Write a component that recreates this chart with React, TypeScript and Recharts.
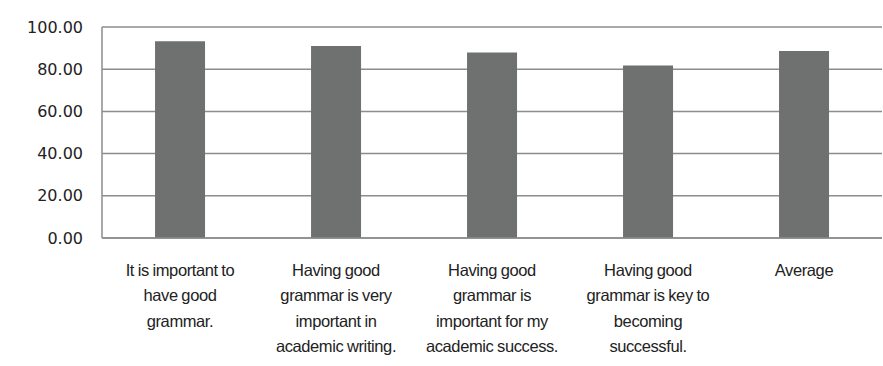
import { BarChart, Bar, XAxis, YAxis, CartesianGrid } from 'recharts'

const categories = [
  'It is important to\nhave good\ngrammar.',
  'Having good\ngrammar is very\nimportant in\nacademic writing.',
  'Having good\ngrammar is\nimportant for my\nacademic success.',
  'Having good\ngrammar is key to\nbecoming\nsuccessful.',
  'Average',
]
const scores = [93.2, 91.0, 87.9, 81.7, 88.6]
const yTicks = [0, 20, 40, 60, 80, 100]

const data = categories.map((name, i) => ({ name, score: scores[i] }))

const AXIS_GREY = '#8c8c8c'
const BAR_GREY = '#6e7170'

// category labels are pre-broken with \n, like the original
function CategoryTick(props: any) {
  const { x, y, payload } = props
  const lines = String(payload.value).split('\n')
  return (
    <text
      x={x}
      y={y}
      textAnchor="middle"
      fill="#222"
      fontFamily="'Liberation Sans', sans-serif"
      fontSize={16.5}
      letterSpacing={-0.4}
      wordSpacing={-0.5}
    >
      {lines.map((line, i) => (
        <tspan key={i} x={x} dy={i === 0 ? 30 : 25.3}>
          {line}
        </tspan>
      ))}
    </text>
  )
}

export default function App() {
  return (
    <div style={{ position: 'absolute', left: 0, top: 0, background: '#fff' }}>
      <BarChart
        width={883}
        height={366}
        data={data}
        margin={{ top: 27, right: 1, bottom: 0, left: 0 }}
        barCategoryGap="34%"
      >
        <CartesianGrid vertical={false} stroke={AXIS_GREY} strokeWidth={1.5} />
        <XAxis
          dataKey="name"
          interval={0}
          height={128}
          axisLine={{ stroke: AXIS_GREY, strokeWidth: 1.5 }}
          tickLine={false}
          tick={<CategoryTick />}
        />
        <YAxis
          domain={[0, 100]}
          ticks={yTicks}
          width={102}
          axisLine={{ stroke: AXIS_GREY, strokeWidth: 1.5 }}
          tickLine={false}
          tickMargin={13}
          tickFormatter={(v: number) => v.toFixed(2)}
          tick={{ fontSize: 16, fill: '#222', fontFamily: 'DejaVu Sans' }}
        />
        <Bar dataKey="score" fill={BAR_GREY} isAnimationActive={false} />
      </BarChart>
    </div>
  )
}
